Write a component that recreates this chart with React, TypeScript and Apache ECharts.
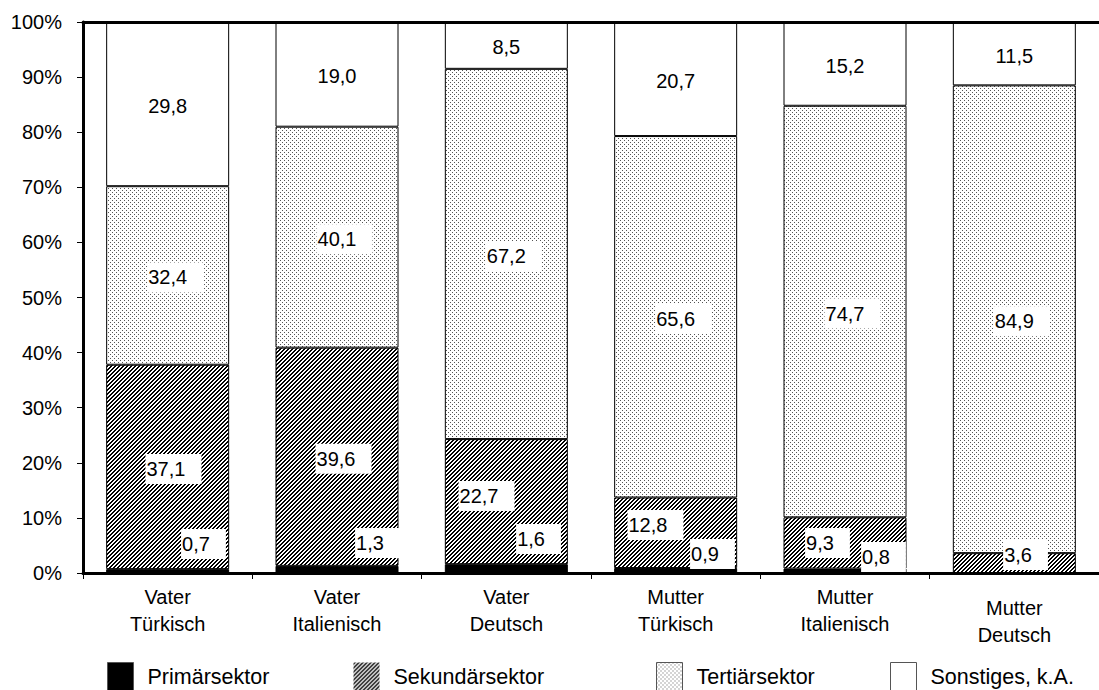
import React, { useEffect, useRef } from 'react';
import * as echarts from 'echarts';

const categories = ['Vater\nTürkisch', 'Vater\nItalienisch', 'Vater\nDeutsch', 'Mutter\nTürkisch', 'Mutter\nItalienisch', 'Mutter\nDeutsch'];
const seriesNames = ['Primärsektor', 'Sekundärsektor', 'Tertiärsektor', 'Sonstiges, k.A.'];
const primaer = [0.7, 1.3, 1.6, 0.9, 0.8, 0];
const sekundaer = [37.1, 39.6, 22.7, 12.8, 9.3, 3.6];
const tertiaer = [32.4, 40.1, 67.2, 65.6, 74.7, 84.9];
const sonstiges = [29.8, 19.0, 8.5, 20.7, 15.2, 11.5];

// label text-centre shifts (px) from the segment centre
const primShift = [[28.3, -29], [33, -28.4], [24.7, -31.6], [29.3, -18.5], [31, -15.8], [0, 0]];
const sekShift = [[-1.7, 0], [-1, 0], [-27.3, -7.6], [-27.7, -9.8], [-25, -2], [3.7, -10]];
const zeroShift = [[0, 0], [0, 0], [0, 0], [0, 0], [0, 0], [0, 0]];

const FONT = 'Liberation Sans, Arial, Helvetica, sans-serif';

function makeTile(kind: 'hatch' | 'dots') {
  const c = document.createElement('canvas');
  c.width = 4;
  c.height = 4;
  const ctx = c.getContext('2d')!;
  ctx.fillStyle = '#ffffff';
  ctx.fillRect(0, 0, 4, 4);
  if (kind === 'hatch') {
    ctx.fillStyle = '#000000';
    for (let x = 0; x < 4; x++) {
      for (let y = 0; y < 4; y++) {
        const m = (x + y) % 4;
        if (m === 0 || m === 1) ctx.fillRect(x, y, 1, 1);
      }
    }
  } else {
    ctx.fillStyle = '#555555';
    ctx.fillRect(0, 0, 1, 1);
    ctx.fillRect(2, 2, 1, 1);
  }
  return { image: c.toDataURL(), repeat: 'repeat', imageWidth: 4, imageHeight: 4 } as any;
}

const fmt = (v: number) => v.toFixed(1).replace('.', ',');

export default function App() {
  const ref = useRef<HTMLDivElement>(null);
  useEffect(() => {
    if (!ref.current) return;
    const chart = echarts.init(ref.current, undefined, { renderer: 'svg' });
    const hatch = makeTile('hatch');
    const dots = makeTile('dots');

    const labelBase = {
      show: true,
      position: 'inside',
      color: '#000',
      fontFamily: FONT,
      fontSize: 20,
      lineHeight: 20,
      backgroundColor: '#fff',
      padding: [3, 16, 7, 1],
      formatter: (p: any) => fmt(p.value),
    };

    const build = (vals: number[], shifts: number[][]) =>
      vals.map((v, i) => ({
        value: v,
        label: v === 0 ? { show: false } : { offset: [shifts[i][0] + 7.5, shifts[i][1] + 2] },
      }));

    const colors = ['#000000', hatch, dots, '#ffffff'];
    const allVals = [primaer, sekundaer, tertiaer, sonstiges];
    const allShifts = [primShift, sekShift, zeroShift, zeroShift];

    const series = seriesNames.map((name, k) => ({
      name,
      type: 'bar',
      stack: 'total',
      barWidth: 123,
      data: build(allVals[k], allShifts[k]),
      itemStyle: { color: colors[k], borderColor: '#000', borderWidth: 1 },
      label: labelBase,
      z: 2,
    }));

    const legendLefts = [107, 353, 656, 890];
    const legends = seriesNames.map((name, k) => ({
      data: [name],
      left: legendLefts[k],
      top: 662,
      padding: 0,
      itemWidth: 26,
      itemHeight: 28,
      icon: 'rect',
      selectedMode: false,
      textStyle: { fontFamily: FONT, fontSize: 21.5, color: '#000', padding: [0, 0, 0, 9] },
      itemStyle: { borderColor: k === 1 ? 'transparent' : '#555', borderWidth: 1 },
    }));

    chart.setOption({
      animation: false,
      backgroundColor: '#ffffff',
      textStyle: { fontFamily: FONT },
      grid: { left: 83, top: 22, width: 1028, height: 551 },
      legend: legends,
      xAxis: [
        {
          type: 'category',
          data: categories,
          position: 'bottom',
          z: 10,
          axisLine: { show: true, lineStyle: { color: '#000', width: 3 } },
          axisTick: { show: true, length: 6, lineStyle: { color: '#000', width: 1 } },
          axisLabel: {
            interval: 0,
            margin: 10,
            color: '#000',
            fontFamily: FONT,
            fontSize: 20,
            formatter: (v: string, i: number) => {
              const [a, b] = v.split('\n');
              return i === 5 ? `{s| }\n{n|${a}}\n{n|${b}}` : `{n|${a}}\n{n|${b}}`;
            },
            rich: {
              n: { fontFamily: FONT, fontSize: 20, lineHeight: 27, color: '#000' },
              s: { fontFamily: FONT, fontSize: 6, lineHeight: 11, color: '#000' },
            },
          },
        },
        {
          type: 'category',
          data: categories,
          position: 'top',
          z: 10,
          axisLine: { show: true, lineStyle: { color: '#000', width: 3 } },
          axisTick: { show: false },
          axisLabel: { show: false },
        },
      ],
      yAxis: {
        type: 'value',
        min: 0,
        max: 100,
        interval: 10,
        z: 10,
        splitLine: { show: false },
        axisLine: { show: true, lineStyle: { color: '#000', width: 3 } },
        axisTick: { show: true, length: 6, lineStyle: { color: '#000', width: 1 } },
        axisLabel: { margin: 21, color: '#000', fontFamily: FONT, fontSize: 20, formatter: '{value}%' },
      },
      series,
    });
    return () => chart.dispose();
  }, []);
  return (
    <div
      ref={ref}
      style={{ position: 'fixed', left: 0, top: 0, width: 1099, height: 690, background: '#fff' }}
    />
  );
}
